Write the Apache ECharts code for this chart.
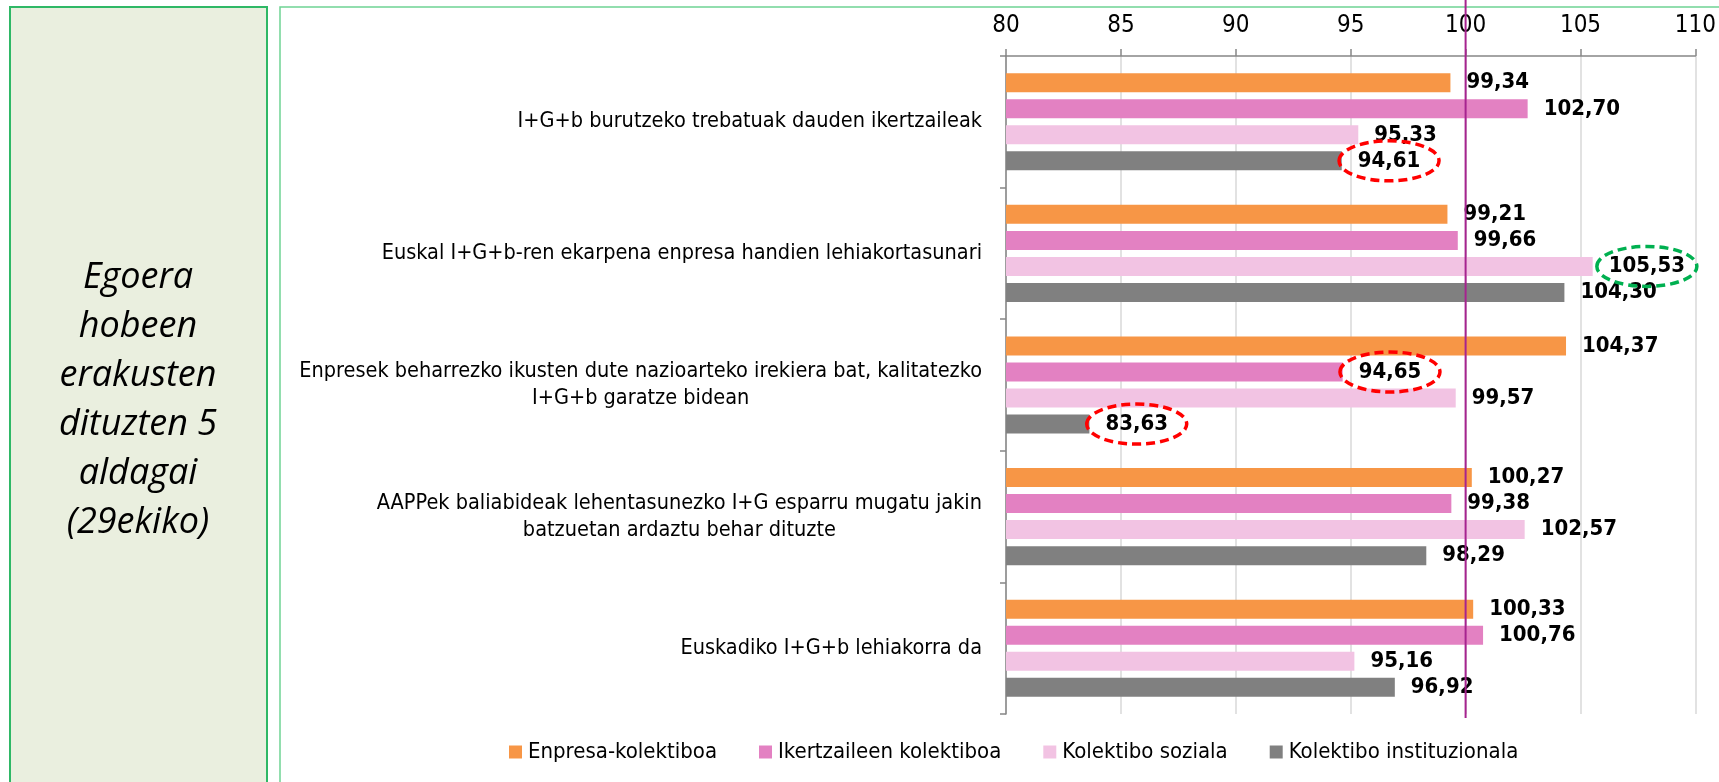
<!DOCTYPE html>
<html>
<head>
<meta charset="utf-8">
<script src="https://cdn.jsdelivr.net/npm/echarts@6/dist/echarts.min.js"></script>
<style>
  html, body { margin: 0; padding: 0; background: #fff; }
  #main { width: 1719px; height: 782px; }
</style>
</head>
<body>
<div id="main"></div>
<script>
// aldagaiak (goitik behera)
var categories = [
    ['I+G+b burutzeko trebatuak dauden ikertzaileak'],
    ['Euskal I+G+b-ren ekarpena enpresa handien lehiakortasunari'],
    ['Enpresek beharrezko ikusten dute nazioarteko irekiera bat, kalitatezko', 'I+G+b garatze bidean'],
    ['AAPPek baliabideak lehentasunezko I+G esparru mugatu jakin', 'batzuetan ardaztu behar dituzte'],
    ['Euskadiko I+G+b lehiakorra da']
];
var seriesNames = ['Enpresa-kolektiboa', 'Ikertzaileen kolektiboa', 'Kolektibo soziala', 'Kolektibo instituzionala'];
var enpresa = [99.34, 99.21, 104.37, 100.27, 100.33];
var ikertzaile = [102.70, 99.66, 94.65, 99.38, 100.76];
var soziala = [95.33, 105.53, 99.57, 102.57, 95.16];
var instituzionala = [94.61, 104.30, 83.63, 98.29, 96.92];
var xTicks = [80, 85, 90, 95, 100, 105, 110];
var refValue = 100;
var panelText = ['Egoera', 'hobeen', 'erakusten', 'dituzten 5', 'aldagai', '(29ekiko)'];
// [serie, aldagaia, kolorea] biribildutako balioak
var highlights = [[3, 0, '#ff0000'], [2, 1, '#00b050'], [1, 2, '#ff0000'], [3, 2, '#ff0000']];

var colors = ['#f79646', '#e381c2', '#f2c3e3', '#808080'];
var narrow = '"Liberation Sans Narrow", "DejaVu Sans Condensed", "Roboto Condensed", Lato, sans-serif';
var labelFont = 'bold 22px ' + narrow;

function fmt(v) {
    return v.toFixed(2).replace('.', ',');
}

var allData = [enpresa, ikertzaile, soziala, instituzionala];

var chart = echarts.init(document.getElementById('main'));

var series = [];
for (var i = 0; i < allData.length; i++) {
    series.push({
        name: seriesNames[i],
        type: 'bar',
        data: allData[i],
        barWidth: 19,
        barGap: '37%',
        itemStyle: { color: colors[i] },
        label: {
            show: true,
            position: 'right',
            distance: 16,
            color: '#000',
            fontWeight: 'bold',
            fontSize: 22,
            fontFamily: narrow,
            formatter: function (p) { return fmt(p.value); }
        }
    });
}

var option = {
    animation: false,
    backgroundColor: '#fff',
    grid: { left: 1006, right: 22, top: 56, bottom: 68 },
    legend: {
        data: seriesNames,
        left: 504,
        top: 736,
        itemWidth: 13,
        itemHeight: 13,
        itemGap: 42,
        icon: 'rect',
        textStyle: { fontSize: 22, color: '#000', fontFamily: narrow, padding: [0, 0, 0, 1] }
    },
    xAxis: {
        type: 'value',
        position: 'top',
        min: xTicks[0],
        max: xTicks[xTicks.length - 1],
        interval: xTicks[1] - xTicks[0],
        axisLine: { show: true, lineStyle: { color: '#868686', width: 1.5 } },
        axisTick: { show: true, length: 7, lineStyle: { color: '#868686', width: 1.5 } },
        splitLine: { show: true, lineStyle: { color: '#d9d9d9', width: 1.5 } },
        axisLabel: { fontSize: 24, color: '#000', margin: 18, fontFamily: narrow }
    },
    yAxis: {
        type: 'category',
        inverse: true,
        data: categories.map(function (c) { return c.join('\n'); }),
        axisLine: { show: true, lineStyle: { color: '#868686', width: 1.5 } },
        axisTick: { show: true, length: 6, lineStyle: { color: '#868686', width: 1.5 } },
        axisLabel: {
            margin: 24,
            formatter: function (v) {
                return v.split('\n').map(function (l) { return '{c|' + l + '}'; }).join('\n');
            },
            rich: {
                c: { fontSize: 21.5, color: '#000', fontFamily: narrow, align: 'center', lineHeight: 27 }
            }
        }
    },
    series: series,
    graphic: [
        {
            type: 'rect', z: -10, silent: true,
            shape: { x: 10, y: 7, width: 257, height: 800 },
            style: { fill: '#eaefdf', stroke: '#2fb866', lineWidth: 2 }
        },
        {
            type: 'rect', z: -10, silent: true,
            shape: { x: 280, y: 7, width: 1500, height: 800 },
            style: { fill: '#fff', stroke: '#6fd394', lineWidth: 1.5 }
        },
        {
            type: 'text', silent: true,
            x: 138, y: 400,
            style: {
                text: panelText.join('\n'),
                font: 'italic 36px "Open Sans", sans-serif',
                lineHeight: 49,
                fill: '#000',
                align: 'center',
                verticalAlign: 'middle'
            }
        }
    ]
};
chart.setOption(option);

// 100eko erreferentzia lerroa eta biribilak
function decorate() {
    var gfx = [];
    var x100 = chart.convertToPixel({ xAxisIndex: 0 }, refValue);
    var gridRect = chart.getModel().getComponent('grid', 0).coordinateSystem.getRect();
    gfx.push({
        type: 'line', silent: true, z: 20,
        shape: { x1: x100, y1: 0, x2: x100, y2: gridRect.y + gridRect.height + 4 },
        style: { stroke: '#a6238f', lineWidth: 2 }
    });
    var ctx = document.createElement('canvas').getContext('2d');
    ctx.font = labelFont;
    highlights.forEach(function (h) {
        var data = chart.getModel().getSeriesByIndex(h[0]).getData();
        var lay = data.getItemLayout(h[1]);
        var end = lay.x + lay.width;
        var tw = ctx.measureText(fmt(allData[h[0]][h[1]])).width;
        gfx.push({
            type: 'ellipse', silent: true, z: 30,
            shape: { cx: end + 16 + tw / 2, cy: lay.y + lay.height / 2, rx: 50, ry: 20 },
            style: { fill: null, stroke: h[2], lineWidth: 3.5, lineDash: [9, 5] }
        });
    });
    chart.setOption({ graphic: option.graphic.concat(gfx) });
}
decorate();
</script>
</body>
</html>
